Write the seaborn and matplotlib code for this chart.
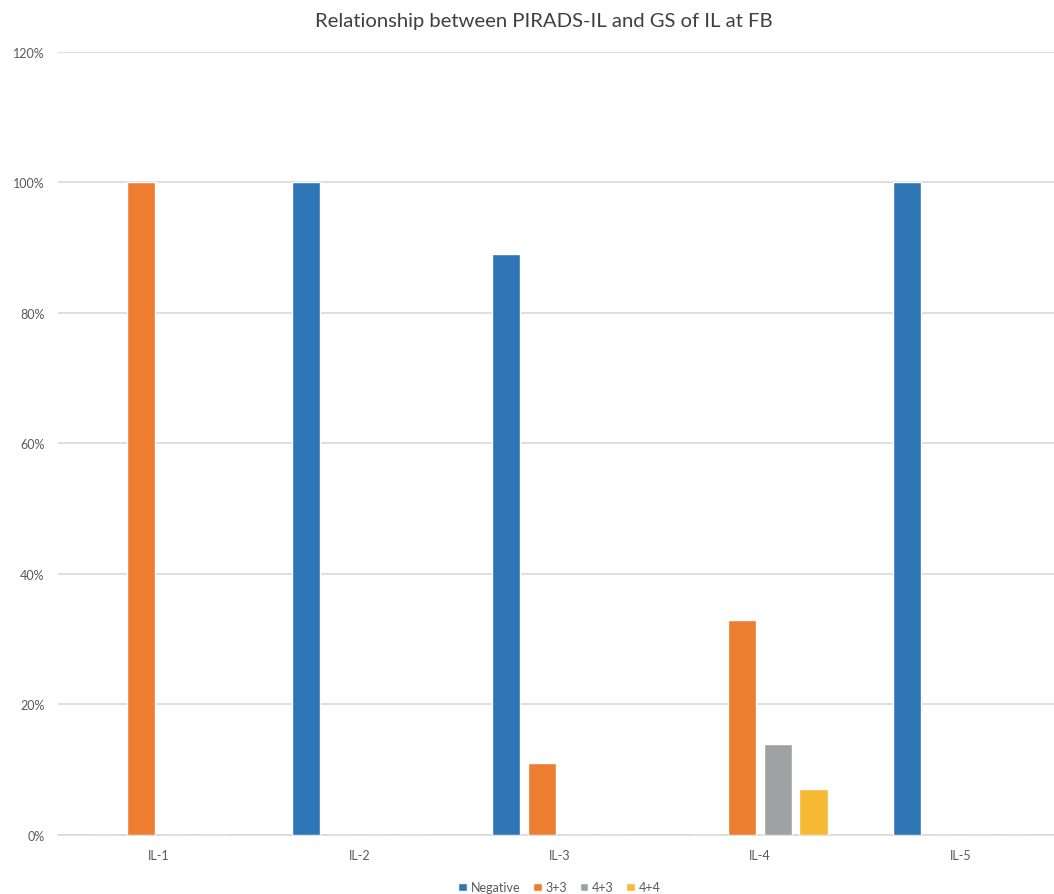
import pandas as pd
import matplotlib.pyplot as plt
import seaborn as sns

# --- dados ---
categories = ['IL-1', 'IL-2', 'IL-3', 'IL-4', 'IL-5']
series = ['Negative', '3+3', '4+3', '4+4']
negative = [0, 100, 89, 0, 100]
gs_33 = [100, 0, 11, 33, 0]
gs_43 = [0, 0, 0, 14, 0]
gs_44 = [0, 0, 0, 7, 0]
colors = ['#2E75B6', '#ED7D31', '#9EA2A5', '#F7B933']

df = pd.DataFrame({'IL': categories, 'Negative': negative, '3+3': gs_33,
                   '4+3': gs_43, '4+4': gs_44})
df_long = df.melt(id_vars='IL', var_name='GS', value_name='pct')

sns.set_style('white')
plt.rcParams['font.family'] = ['Lato', 'DejaVu Sans']

fig = plt.figure(figsize=(10.54, 8.95), dpi=100)
ax = fig.add_axes([0.0555, 0.066, 0.951, 0.875])

sns.barplot(data=df_long, x='IL', y='pct', hue='GS', hue_order=series,
            palette=colors, width=0.71, gap=0.21, saturation=1,
            ax=ax, zorder=3)

ax.set_ylim(0, 120)
ax.set_yticks(range(0, 121, 20))
ax.set_yticklabels([f'{v}%' for v in range(0, 121, 20)])
ax.yaxis.grid(True, color='#D9D9D9', linewidth=1.2, zorder=0)
ax.set_axisbelow(True)
for s in ['top', 'right', 'left']:
    ax.spines[s].set_visible(False)
ax.spines['bottom'].set_color('#D9D9D9')
ax.spines['bottom'].set_linewidth(1.2)
ax.tick_params(axis='both', length=0, labelsize=9, colors='#595959', pad=10)
ax.set_xlabel('')
ax.set_ylabel('')

fig.suptitle('Relationship between PIRADS-IL and GS of IL at FB',
             fontsize=14.6, color='#404040', x=0.516, y=0.985)

ax.legend(loc='upper center', bbox_to_anchor=(0.5, -0.045), ncol=4,
          frameon=False, fontsize=9, handlelength=0.7, handleheight=0.7,
          handletextpad=0.3, columnspacing=1.0, labelcolor='#595959')

plt.savefig('out.png', dpi=100)
plt.close()
